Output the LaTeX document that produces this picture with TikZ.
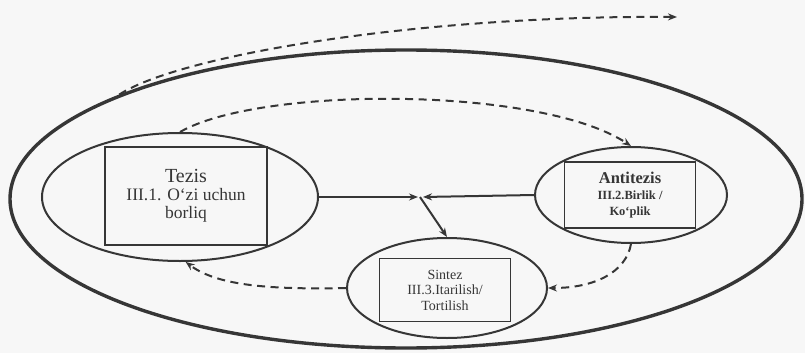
\documentclass[tikz,border=0pt]{standalone}
\usepackage{fontspec}
\setmainfont{Liberation Serif}
\usetikzlibrary{shapes.geometric,arrows.meta}
\definecolor{ink}{HTML}{363636}
\definecolor{paper}{HTML}{F7F7F7}
\begin{document}
\begin{tikzpicture}[x=1pt,y=-1pt,
  ell/.style={ellipse,draw=ink,line width=2pt,inner sep=0pt},
  box/.style={rectangle,draw=ink,line width=1.2pt,inner sep=0pt,align=center,text=ink},
  conn/.style={draw=ink,line width=2pt,-{Stealth[length=9pt,width=7pt]}},
  dconn/.style={conn,dash pattern=on 8pt off 5.5pt}]
\fill[paper] (0,0) rectangle (805,353);
\useasboundingbox (0,0) rectangle (805,353);
% ellipses
\node[ell,line width=3.4pt,minimum width=792pt,minimum height=298pt] (outer) at (406,199) {};
\node[ell,minimum width=276pt,minimum height=128pt] (tezisE) at (180,197) {};
\node[ell,minimum width=192pt,minimum height=96pt] (antiE) at (631,195) {};
\node[ell,minimum width=200pt,minimum height=100pt] (sinE) at (447,288) {};
% boxes
\node[box,minimum width=162pt,minimum height=98pt,font=\fontsize{17.5}{18}\selectfont] (tezisR) at (186,196)
  {{\fontsize{20}{21}\selectfont Tezis}\\III.1. O‘zi uchun\\borliq};
\node[box,minimum width=131pt,minimum height=66pt,font=\bfseries\fontsize{12.5}{16}\selectfont] (antiR) at (630,195)
  {{\fontsize{16.5}{17}\selectfont Antitezis}\\III.2.Birlik /\\Ko‘plik};
\node[box,minimum width=131pt,minimum height=63pt,font=\fontsize{14}{15.5}\selectfont] (sinR) at (445,290)
  {Sintez\\III.3.Itarilish/\\Tortilish};
% coordinates
\coordinate (midL) at (418,197);
\coordinate (midR) at (423,197);
\coordinate (mid) at (420,197);
\coordinate (topEnd) at (677,17);
% solid connectors
\draw[conn] (tezisE.east) -- (midL);
\draw[conn] (antiE.west) -- (midR);
\draw[conn] (mid) -- (sinE.north);
% dashed connectors
\draw[dconn] (outer.160) .. controls (180,55) and (420,15) .. (topEnd);
\draw[dconn] (tezisE.north) .. controls (260,86) and (540,86) .. (antiE.north);
\draw[dconn] (antiE.south) .. controls (626,272) and (595,288) .. (sinE.east);
\draw[dconn] (sinE.west) .. controls (262,290) and (215,284) .. (tezisE.-85);
\end{tikzpicture}
\end{document}
